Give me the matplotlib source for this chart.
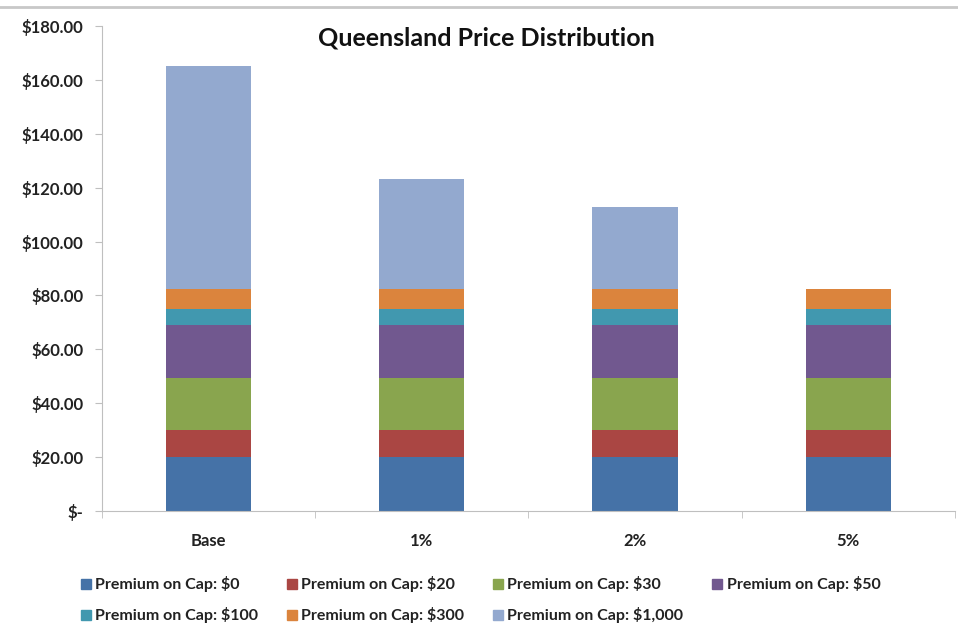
import numpy as np
import matplotlib
matplotlib.use("Agg")
import matplotlib.pyplot as plt
from matplotlib.ticker import FuncFormatter, FixedLocator
from matplotlib.lines import Line2D

plt.rcParams['font.family'] = ['Lato', 'DejaVu Sans']

# data
categories = ['Base', '1%', '2%', '5%']
series_names = ['Premium on Cap: $0', 'Premium on Cap: $20', 'Premium on Cap: $30',
                'Premium on Cap: $50', 'Premium on Cap: $100', 'Premium on Cap: $300',
                'Premium on Cap: $1,000']
cap_0 = [20, 20, 20, 20]
cap_20 = [10, 10, 10, 10]
cap_30 = [19.5, 19.5, 19.5, 19.5]
cap_50 = [19.5, 19.5, 19.5, 19.5]
cap_100 = [6, 6, 6, 6]
cap_300 = [7.5, 7.5, 7.5, 7.5]
cap_1000 = [82.7, 40.6, 30.5, 0]
series = [cap_0, cap_20, cap_30, cap_50, cap_100, cap_300, cap_1000]
colors = ['#4572A7', '#AA4643', '#89A54E', '#71588F', '#4198AF', '#DB843D', '#93A9CF']

fig = plt.figure(figsize=(9.58, 6.34), dpi=100)
ax = fig.add_axes([0.106, 0.194, 0.891, 0.765])

x = np.arange(len(categories))
bottom = np.zeros(len(categories))
handles = []
for vals, name, c in zip(series, series_names, colors):
    ax.bar(x, vals, width=0.4, bottom=bottom, color=c, label=name)
    bottom += np.array(vals)
    handles.append(Line2D([], [], marker='s', linestyle='none', markersize=7,
                          markerfacecolor=c, markeredgecolor=c))

ax.set_xlim(-0.5, len(categories) - 0.5)
ax.set_ylim(0, 180)
ax.set_yticks(np.arange(0, 181, 20))
ax.yaxis.set_major_formatter(FuncFormatter(lambda v, p: '$-' if v == 0 else f'${v:,.2f}'))
ax.set_xticks(x)
ax.set_xticklabels(categories)
ax.xaxis.set_minor_locator(FixedLocator(np.arange(-0.5, len(categories), 1.0)))
ax.tick_params(axis='x', which='major', length=0, pad=16)
ax.tick_params(axis='x', which='minor', length=5, color='#bfbfbf', direction='out')
ax.tick_params(axis='y', length=5, color='#bfbfbf', pad=8)
for lbl in ax.get_xticklabels() + ax.get_yticklabels():
    lbl.set_fontweight('bold')
    lbl.set_fontsize(12)
    lbl.set_color('#222222')

for s in ['top', 'right']:
    ax.spines[s].set_visible(False)
for s in ['left', 'bottom']:
    ax.spines[s].set_color('#bfbfbf')

fig.text(0.508, 0.94, 'Queensland Price Distribution', ha='center', va='center',
         fontsize=18, fontweight='bold', color='#111111')

# order handles so the legend fills row by row
order = [0, 4, 1, 5, 2, 6, 3]
leg = fig.legend([handles[i] for i in order], [series_names[i] for i in order],
                 loc='center', bbox_to_anchor=(0.5, 0.054), ncol=4, frameon=False,
                 prop={'size': 11.5, 'weight': 'bold'}, handletextpad=0.1,
                 columnspacing=1.6, labelspacing=0.95, handlelength=1.0)
for t in leg.get_texts():
    t.set_color('#222222')

fig.add_artist(Line2D([0, 1], [0.989, 0.989], transform=fig.transFigure,
                      color='#c8c8c8', linewidth=2))

fig.savefig('out.png', dpi=100)
